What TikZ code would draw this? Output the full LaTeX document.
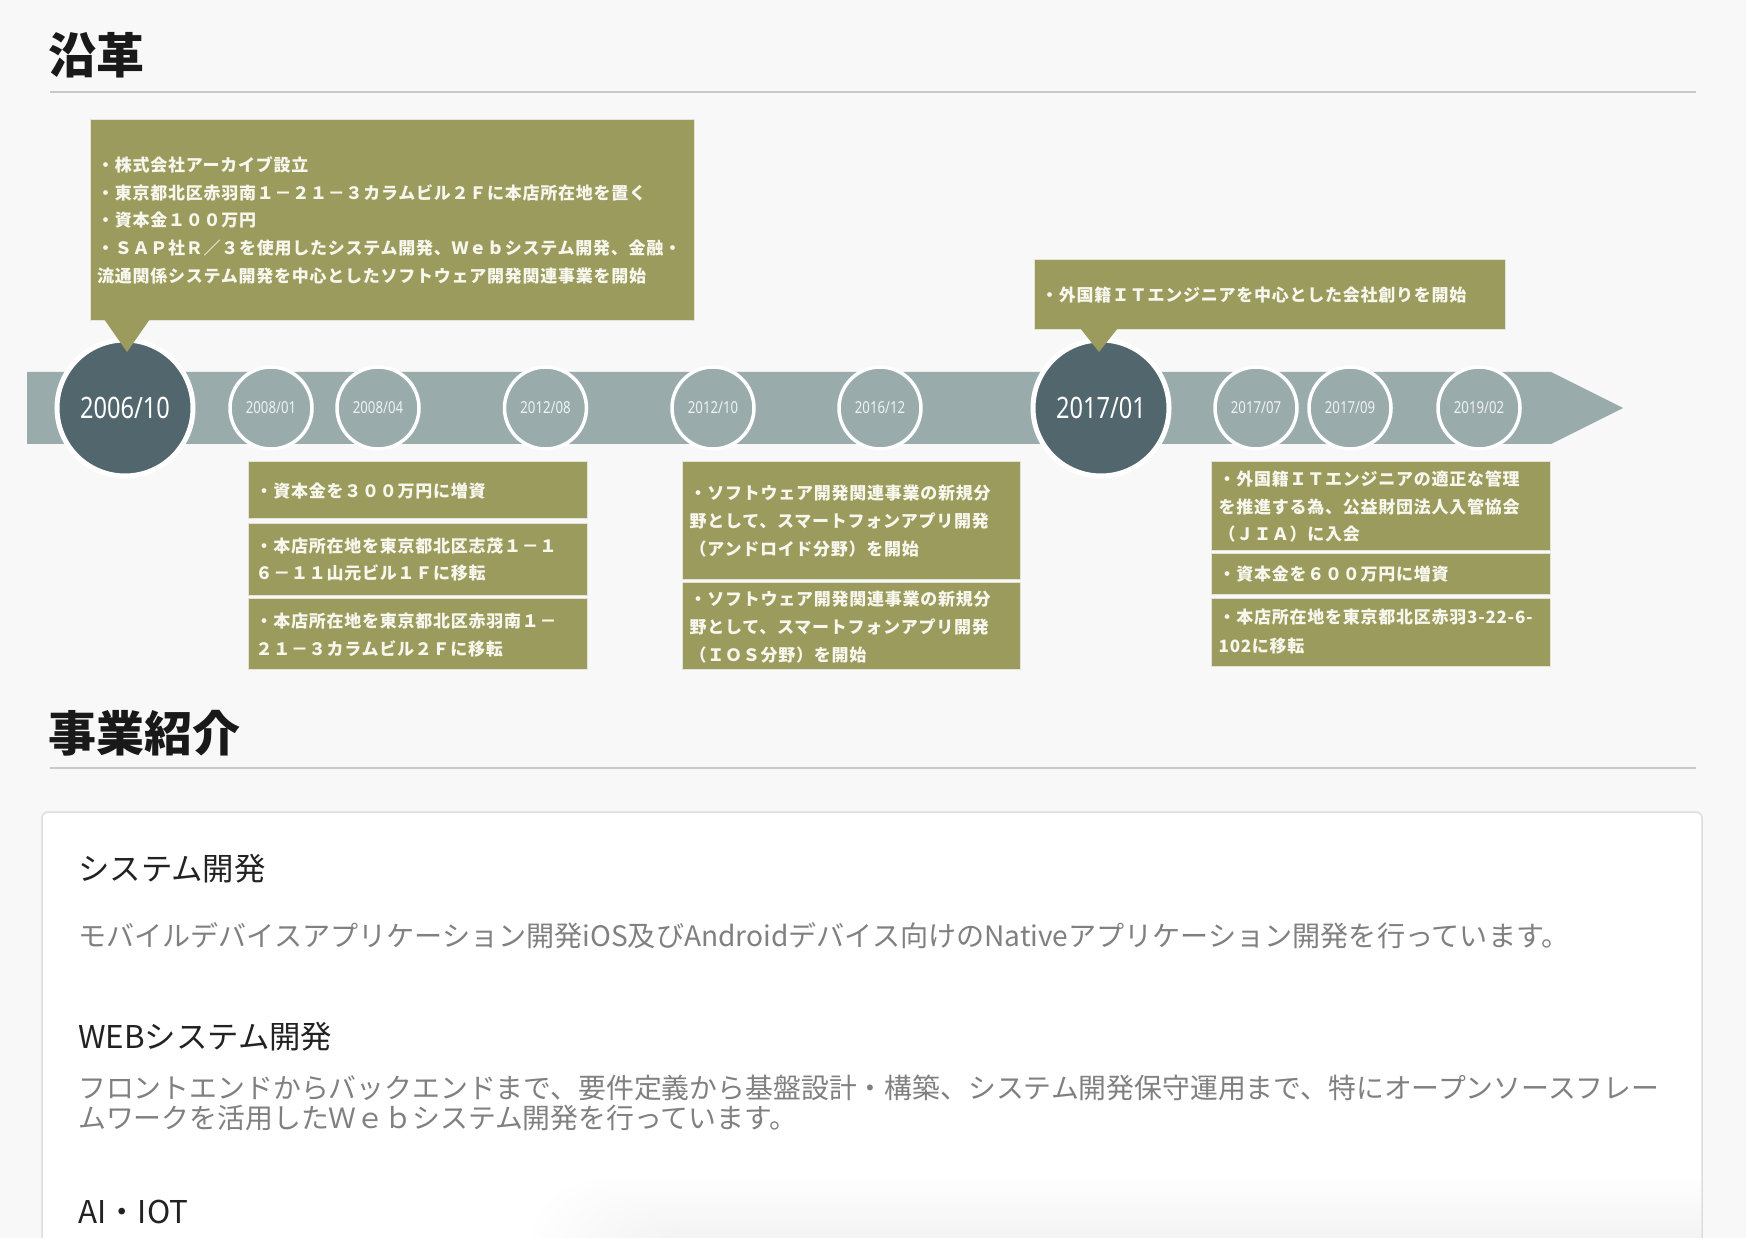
\documentclass[tikz,border=0pt]{standalone}
\usepackage{fontspec}
\setmainfont{Noto Sans CJK JP}
\newfontfamily\boxfont{Noto Sans CJK JP}[LetterSpace=4.4]
\newfontfamily\datefont{Noto Sans}[FakeStretch=0.8]
\usetikzlibrary{fit}
\definecolor{bgc}{HTML}{F8F8F8}
\definecolor{olive}{HTML}{9A9B5C}
\definecolor{barc}{HTML}{9AABAC}
\definecolor{darkc}{HTML}{52666E}
\definecolor{rulec}{HTML}{C8C8C8}
\definecolor{cardline}{HTML}{DDDDDD}
\definecolor{headc}{HTML}{222222}
\definecolor{parac}{HTML}{808080}
\definecolor{boxtxt}{HTML}{F7F7EE}
\definecolor{boxedge}{HTML}{E4E4D6}
\definecolor{datec}{HTML}{EEF2F2}
\begin{document}
\begin{tikzpicture}[x=1pt,y=-1pt,
  obox/.style={fit={#1}, inner sep=0pt, fill=olive, draw=boxedge, line width=0.8pt},
  btext/.style={anchor=base west, inner sep=0pt, text=boxtxt, font={\boxfont\bfseries\fontsize{17}{20}\selectfont}},
  bigdot/.style={circle, minimum size=136pt, inner sep=0pt, fill=darkc, draw=white, line width=5pt, text=white, font={\datefont\fontsize{29.5}{30}\selectfont}},
  smalldot/.style={circle, minimum size=82pt, inner sep=0pt, fill=barc, draw=white, line width=3.5pt, text=datec, font={\datefont\fontsize{16.5}{17}\selectfont}},
  title/.style={anchor=base west, inner sep=0pt, text=black!90, font={\bfseries\fontsize{48}{50}\selectfont}},
  head/.style={anchor=base west, inner sep=0pt, text=headc, font={\fontsize{31.4}{33}\selectfont}},
  para/.style={anchor=base west, inner sep=0pt, text=parac, font={\fontsize{28.1}{30}\selectfont}},
  para2/.style={para, font={\fontsize{27.85}{30}\selectfont}},
  rule/.style={draw=rulec, line width=2pt}]
\path[use as bounding box, fill=bgc] (0,0) rectangle (1746,1238);

% ---- section 1 title
\node[title] (h1) at (48,73.8) {沿革};
\draw[rule] (50,92) -- (1696,92);

% ---- timeline bar
\fill[barc] (27,372) -- (1551,372) -- (1623,408) -- (1551,444) -- (27,444) -- cycle;

% ---- dates
\node[bigdot] (d1) at (125,408) {2006/10};
\node[smalldot] (d2) at (271,408) {2008/01};
\node[smalldot] (d3) at (378,408) {2008/04};
\node[smalldot] (d4) at (545.5,408) {2012/08};
\node[smalldot] (d5) at (713,408) {2012/10};
\node[smalldot] (d6) at (880,408) {2016/12};
\node[bigdot] (d7) at (1101,408) {2017/01};
\node[smalldot] (d8) at (1256,408) {2017/07};
\node[smalldot] (d9) at (1350,408) {2017/09};
\node[smalldot] (d10) at (1479,408) {2019/02};

% ---- top boxes
\node[obox={(90,119)(694,320)}] (b1) {};
\fill[olive] (104,319) -- (150,319) -- (127,352) -- cycle;
\node[btext] (b1l1) at (97,171.4) {・株式会社アーカイブ設立};
\node[btext] (b1l2) at (97,199.1) {・東京都北区赤羽南１－２１－３カラムビル２Ｆに本店所在地を置く};
\node[btext] (b1l3) at (97,226.8) {・資本金１００万円};
\node[btext] (b1l4) at (97,254.5) {・ＳＡＰ社Ｒ／３を使用したシステム開発、Ｗｅｂシステム開発、金融・};
\node[btext] (b1l5) at (97,282.2) {流通関係システム開発を中心としたソフトウェア開発関連事業を開始};

\node[obox={(1034,259)(1505,329)}] (b2) {};
\fill[olive] (1080,328) -- (1118,328) -- (1099,352) -- cycle;
\node[btext] (b2l1) at (1041,301.4) {・外国籍ＩＴエンジニアを中心とした会社創りを開始};

% ---- bottom boxes, column 1
\node[obox={(248.5,461)(587,518)}] (ba) {};
\node[btext] (bal1) at (255.5,497.9) {・資本金を３００万円に増資};
\node[obox={(248.5,523.5)(587,595.5)}] (bb) {};
\node[btext] (bbl1) at (255.5,552.4) {・本店所在地を東京都北区志茂１－１};
\node[btext] (bbl2) at (255.5,579.9) {６－１１山元ビル１Ｆに移転};
\node[obox={(248.5,598.5)(587,669.5)}] (bc) {};
\node[btext] (bcl1) at (255.5,627.4) {・本店所在地を東京都北区赤羽南１－};
\node[btext] (bcl2) at (255.5,655.4) {２１－３カラムビル２Ｆに移転};

% ---- column 2
\node[obox={(682.5,461)(1020.5,579.5)}] (bd) {};
\node[btext] (bdl1) at (689.5,499.4) {・ソフトウェア開発関連事業の新規分};
\node[btext] (bdl2) at (689.5,527.4) {野として、スマートフォンアプリ開発};
\node[btext] (bdl3) at (689.5,555.4) {（アンドロイド分野）を開始};
\node[obox={(682.5,582.5)(1020.5,669.5)}] (be) {};
\node[btext] (bel1) at (689.5,605.4) {・ソフトウェア開発関連事業の新規分};
\node[btext] (bel2) at (689.5,633.4) {野として、スマートフォンアプリ開発};
\node[btext] (bel3) at (689.5,661.4) {（ＩＯＳ分野）を開始};

% ---- column 3
\node[obox={(1211.5,461)(1550,550)}] (bf) {};
\node[btext] (bfl1) at (1218.5,485.4) {・外国籍ＩＴエンジニアの適正な管理};
\node[btext] (bfl2) at (1218.5,513.4) {を推進する為、公益財団法人入管協会};
\node[btext] (bfl3) at (1218.5,540.9) {（ＪＩＡ）に入会};
\node[obox={(1211.5,553)(1550,594.5)}] (bg) {};
\node[btext] (bgl1) at (1218.5,580.9) {・資本金を６００万円に増資};
\node[obox={(1211.5,598)(1550,666)}] (bh) {};
\node[btext] (bhl1) at (1218.5,623.9) {・本店所在地を東京都北区赤羽3-22-6-};
\node[btext] (bhl2) at (1218.5,652.4) {102に移転};

% ---- section 2
\node[title] (h2) at (48,751.3) {事業紹介};
\draw[rule] (50,768) -- (1696,768);

\filldraw[fill=white, draw=cardline, line width=1.5pt, rounded corners=6pt] (42,812) rectangle (1702,1270);
\begin{scope}
\clip (43,813) rectangle (1701,1238);
\foreach \k in {0,...,11}
  \fill[black, opacity=0.0035, rounded corners=70pt] ({530+\k*9},{1180+\k*5}) rectangle (1760,1320);
\end{scope}

\node[head] (s1) at (78,880.4) {システム開発};
\node[para] (p1) at (78,946.7) {モバイルデバイスアプリケーション開発iOS及びAndroidデバイス向けのNativeアプリケーション開発を行っています。};
\node[head] (s2) at (78,1048.4) {WEBシステム開発};
\node[para2] (p2a) at (78,1098.7) {フロントエンドからバックエンドまで、要件定義から基盤設計・構築、システム開発保守運用まで、特にオープンソースフレー};
\node[para2] (p2b) at (78,1128.7) {ムワークを活用したＷｅｂシステム開発を行っています。};
\node[head] (s3) at (78,1223.4) {AI・IOT};
\end{tikzpicture}
\end{document}
